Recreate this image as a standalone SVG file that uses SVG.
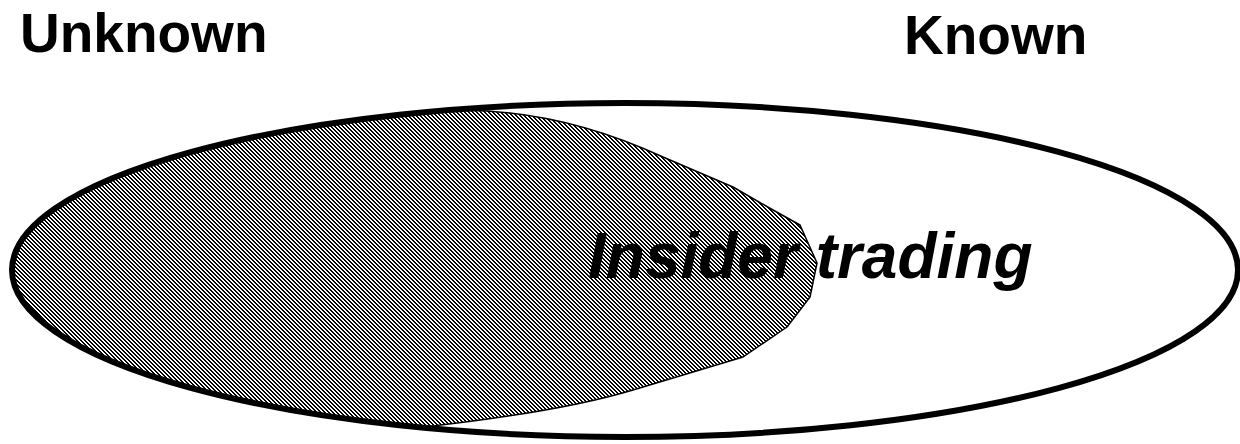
<svg xmlns="http://www.w3.org/2000/svg" width="1240" height="444" viewBox="0 0 1240 444">
  <style>
    .hdr { font-family: "Liberation Sans", Arial, sans-serif; font-weight: 700; font-size: 55px; fill: #000; }
    .lbl { font-family: "Liberation Sans", Arial, sans-serif; font-weight: 700; font-style: italic; font-size: 64px; fill: #000; }
  </style>
  <defs>
    <pattern id="hatch" x="0" y="0" width="4" height="4" patternUnits="userSpaceOnUse">
      <rect width="4" height="4" fill="#fff"/>
      <rect x="0" y="0" width="2" height="1" fill="#000"/>
      <rect x="1" y="1" width="2" height="1" fill="#000"/>
      <rect x="2" y="2" width="2" height="1" fill="#000"/>
      <rect x="3" y="3" width="1" height="1" fill="#000"/>
      <rect x="0" y="3" width="1" height="1" fill="#000"/>
    </pattern>
  </defs>
  <rect width="1240" height="444" fill="#fff"/>
  <g id="unknown-region">
    <path d="M420,112.6 A613,167 0 0 0 420,427.4 Q560,412 633,390 L743,357 L787,327 L810,297 L817,263 L800,225 L773,210 L733,187 L663,157 Q540,100 420,112.6 Z" fill="url(#hatch)" stroke="#000" stroke-width="1.5" stroke-linejoin="round"/>
  </g>
  <g id="known-set">
    <ellipse cx="625" cy="270" rx="613" ry="167" fill="none" stroke="#000" stroke-width="6"/>
  </g>
  <g id="label-unknown">
    <text class="hdr" x="20" y="52">Unknown</text>
  </g>
  <g id="label-known">
    <text class="hdr" x="904" y="54">Known</text>
  </g>
  <g id="label-insider">
    <text class="lbl" x="588" y="278">Insider trading</text>
  </g>
</svg>
